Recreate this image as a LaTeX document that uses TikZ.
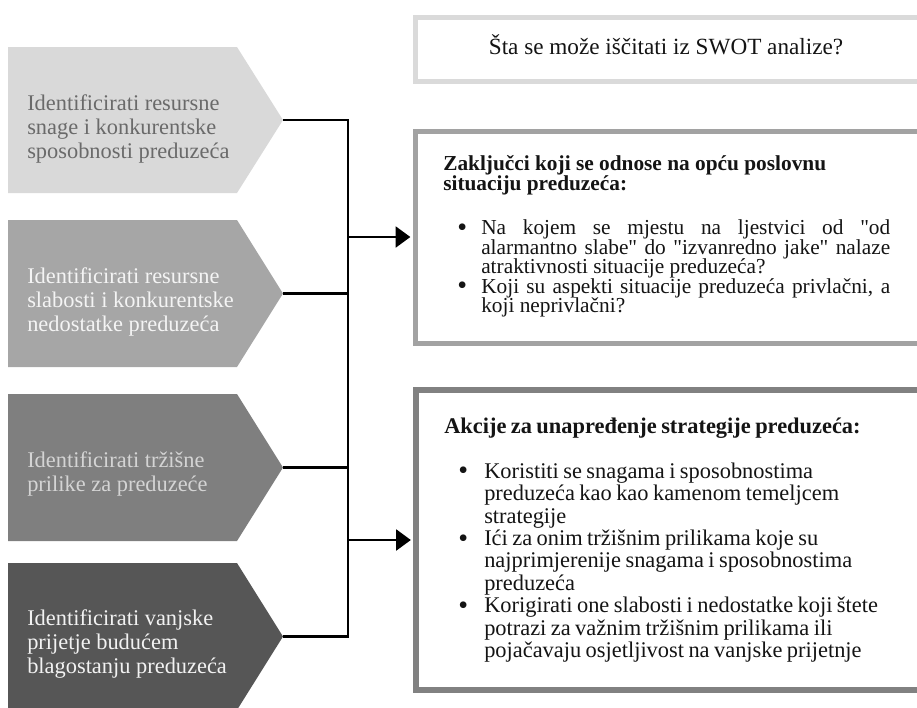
\documentclass[tikz,border=0pt]{standalone}
\usepackage{fontspec}
\setmainfont{Liberation Serif}
\usetikzlibrary{arrows.meta}

\definecolor{tone1}{HTML}{D9D9D9}
\definecolor{tone2}{HTML}{A6A6A6}
\definecolor{tone3}{HTML}{7F7F7F}
\definecolor{tone4}{HTML}{565656}
\definecolor{ink1}{HTML}{6A6A6A}
\definecolor{ink2}{HTML}{F4F4F4}
\definecolor{ink3}{HTML}{D4D4D4}
\definecolor{ink4}{HTML}{F2F2F2}
\definecolor{frame1}{HTML}{DADADA}
\definecolor{frame2}{HTML}{A2A2A2}
\definecolor{frame3}{HTML}{818181}
\definecolor{body}{HTML}{141414}

% straight double quote, taken as a glyph so no ligature mapping touches it
\newcommand{\sdq}{\XeTeXglyph\XeTeXcharglyph"22\relax}

% bullet line with hanging indent: #1 = indent of the item text
\newcommand{\dotitem}[1]{\par\noindent\hangindent=#1\hangafter=1%
  \makebox[#1][l]{\hspace{10.5pt}\raisebox{-1.2pt}{\fontsize{21}{21}\selectfont\textbullet}}}

\tikzset{
  tagtext/.style={anchor=west, inner sep=0pt, align=left,
    font=\fontsize{16.8}{18.2}\selectfont},
  panel/.style={draw, anchor=north west, inner sep=0pt, fill=white},
  paneltext/.style={anchor=north west, inner sep=0pt, text=body},
  wire/.style={line width=2.2pt},
  feed/.style={wire, -{Triangle[length=11pt,width=15.5pt]}, shorten >=1.6pt},
}

\begin{document}
\begin{tikzpicture}[x=0.75pt,y=-0.75pt]
\useasboundingbox (0,0) rectangle (917,707);
\clip (0,0) rectangle (917,707);

% pentagon tags on the left
\fill[tone1] (8,47) -- (237,47) -- (283,120) coordinate (tip1) -- (237,193) -- (8,193) -- cycle;
\fill[tone2] (8,220) -- (237,220) -- (283,293.5) coordinate (tip2) -- (237,367) -- (8,367) -- cycle;
\fill[tone3] (8,394) -- (237,394) -- (283,467.5) coordinate (tip3) -- (237,541) -- (8,541) -- cycle;
\fill[tone4] (8,563) -- (237,563) -- (283,636.5) coordinate (tip4) -- (237,710) -- (8,710) -- cycle;

\node[tagtext, text=ink1] (s1) at (27,129) {Identificirati resursne\\snage i konkurentske\\sposobnosti preduzeća};
\node[tagtext, text=ink2] (s2) at (27,302) {Identificirati resursne\\slabosti i konkurentske\\nedostatke preduzeća};
\node[tagtext, text=ink3] (s3) at (27,474) {Identificirati tržišne\\prilike za preduzeće};
\node[tagtext, text=ink4] (s4) at (27,644) {Identificirati vanjske\\prijetje budućem\\blagostanju preduzeća};

% framed panels on the right
\node[panel, draw=frame1, line width=3.75pt, minimum width=380.6pt, minimum height=48pt] (box1) at (412.5,14.5) {};
\node[anchor=base, inner sep=0pt, text=body, font=\fontsize{17.4}{20}\selectfont] (q) at (666,54) {Šta se može iščitati iz SWOT analize?};

\node[panel, draw=frame2, line width=3.75pt, minimum width=380.6pt, minimum height=159pt] (box2) at (412.5,128.5) {};
\node[paneltext, text width=335.25pt, align=justify] (t2) at (443,155.5) {%
  \fontsize{16}{14.6}\selectfont\lineskiplimit=-100pt
  \textbf{Zaključci koji se odnose na opću poslovnu\newline situaciju preduzeća:}\par
  \vspace{18.9pt}
  \dotitem{28.5pt}Na kojem se mjestu na ljestvici od \sdq od\linebreak alarmantno slabe\sdq\ do \sdq izvanredno jake\sdq\ nalaze\linebreak atraktivnosti situacije preduzeća?
  \dotitem{28.5pt}Koji su aspekti situacije preduzeća privlačni, a\linebreak koji neprivlačni?\par};

\node[panel, draw=frame3, line width=4.5pt, minimum width=380.25pt, minimum height=225pt] (box3) at (413,387) {};
\node[paneltext, text width=350pt, align=left] (t3) at (444,417.6) {%
  \fontsize{16.8}{16.8}\selectfont\lineskiplimit=-100pt
  \textbf{Akcije za unapređenje strategije preduzeća:}\par
  \vspace{16.9pt}
  \dotitem{30pt}Koristiti se snagama i sposobnostima\newline preduzeća kao kao kamenom temeljcem\newline strategije
  \dotitem{30pt}Ići za onim tržišnim prilikama koje su\newline najprimjerenije snagama i sposobnostima\newline preduzeća
  \dotitem{30pt}Korigirati one slabosti i nedostatke koji štete\newline potrazi za važnim tržišnim prilikama ili\newline pojačavaju osjetljivost na vanjske prijetnje\par};

% collecting bus and feeds into the panels
\coordinate (bus) at (348,0);
\draw[wire] (tip1) -- (tip1 -| bus) -- (tip4 -| bus) -- (tip4);
\draw[wire] (tip2) -- (tip2 -| bus);
\draw[wire] (tip3) -- (tip3 -| bus);
\draw[feed] (bus |- box2.west) -- (box2.west);
\draw[feed] (bus |- box3.west) -- (box3.west);
\end{tikzpicture}
\end{document}
